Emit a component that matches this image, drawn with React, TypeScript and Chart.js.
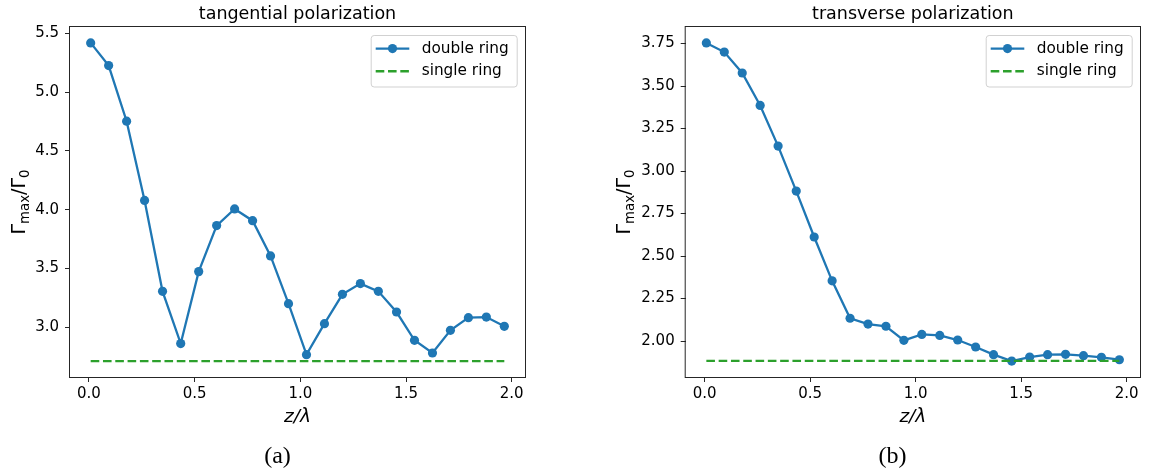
import React, { useEffect, useRef } from "react";
import { Chart, registerables } from "chart.js";

Chart.register(...registerables);

// Distance from the ring plane, in units of the wavelength
const zOverLambda = [
  0.008, 0.093, 0.178, 0.263, 0.348, 0.434, 0.519, 0.604, 0.689, 0.774, 0.859, 0.944,
  1.029, 1.114, 1.199, 1.284, 1.369, 1.455, 1.54, 1.625, 1.71, 1.795, 1.88, 1.965,
];

// Γmax/Γ0, tangential polarization
const tangentialDouble = [
  5.42, 5.227, 4.753, 4.078, 3.304, 2.859, 3.472, 3.864, 4.006, 3.906, 3.606, 3.199,
  2.765, 3.029, 3.279, 3.37, 3.304, 3.128, 2.887, 2.779, 2.972, 3.08, 3.085, 3.006,
];
const tangentialSingle = 2.71;

// Γmax/Γ0, transverse polarization
const transverseDouble = [
  3.754, 3.7, 3.577, 3.386, 3.147, 2.882, 2.612, 2.354, 2.134, 2.1, 2.087, 2.004,
  2.039, 2.033, 2.006, 1.965, 1.92, 1.882, 1.906, 1.92, 1.922, 1.914, 1.904, 1.89,
];
const transverseSingle = 1.883;

const xTicks = [0, 0.5, 1, 1.5, 2];
const tangentialYTicks = [3.0, 3.5, 4.0, 4.5, 5.0, 5.5];
const transverseYTicks = [2.0, 2.25, 2.5, 2.75, 3.0, 3.25, 3.5, 3.75];

const seriesLabels = ["double ring", "single ring"];
const titles = ["tangential polarization", "transverse polarization"];
const captions = ["(a)", "(b)"];

const BLUE = "#1f77b4";
const GREEN = "#2ca02c";
const INK = "#000000";
const SPINE = "#262626";
const SANS = '"DejaVu Sans", sans-serif';

const CANVAS_H = 475;

// matplotlib-like autoscale: data range plus 5% margins on both sides
function padded(values: number[]) {
  const lo = Math.min(...values);
  const hi = Math.max(...values);
  const m = (hi - lo) * 0.05;
  return { min: lo - m, max: hi + m };
}

type FrameOpts = {
  title: string;
  yLabelGap: number;
};

// Draws the axes frame, title, axis labels (with subscripts) and the legend
const framePlugin = {
  id: "frame",
  afterDraw(chart: any, _args: any, opts: FrameOpts) {
    const { ctx, chartArea: a } = chart;
    ctx.save();

    // spines
    ctx.strokeStyle = SPINE;
    ctx.lineWidth = 1;
    ctx.setLineDash([]);
    ctx.strokeRect(a.left - 0.5, a.top - 0.5, a.right - a.left + 1, a.bottom - a.top + 1);

    const cx = (a.left + a.right) / 2;

    // title
    ctx.fillStyle = INK;
    ctx.font = `17.5px ${SANS}`;
    ctx.textAlign = "center";
    ctx.textBaseline = "alphabetic";
    ctx.fillText(opts.title, cx, a.top - 8.5);

    // x label: z/λ
    ctx.font = `italic 18.5px ${SANS}`;
    ctx.textBaseline = "middle";
    ctx.fillText("z/λ", cx, a.bottom + 40);

    // y label: Γmax/Γ0
    const fs = 19;
    const sub = fs * 0.7;
    const runs = [
      { t: "Γ", s: false },
      { t: "max", s: true },
      { t: "/Γ", s: false },
      { t: "0", s: true },
    ];
    const widthOf = (r: { t: string; s: boolean }) => {
      ctx.font = `${r.s ? sub : fs}px ${SANS}`;
      return ctx.measureText(r.t).width;
    };
    const total = runs.reduce((acc, r) => acc + widthOf(r), 0);
    ctx.translate(a.left - opts.yLabelGap, (a.top + a.bottom) / 2);
    ctx.rotate(-Math.PI / 2);
    ctx.textAlign = "left";
    ctx.textBaseline = "alphabetic";
    let x = -total / 2;
    for (const r of runs) {
      const w = widthOf(r);
      ctx.fillText(r.t, x, r.s ? fs * 0.2 : 0);
      x += w;
    }
    ctx.setTransform(1, 0, 0, 1, 0, 0);

    // legend
    const boxW = 146;
    const boxH = 51.5;
    const bx = a.right - 8.3 - boxW;
    const by = a.top + 8;
    ctx.beginPath();
    if ((ctx as any).roundRect) {
      (ctx as any).roundRect(bx + 0.5, by + 0.5, boxW, boxH, 3);
    } else {
      ctx.rect(bx + 0.5, by + 0.5, boxW, boxH);
    }
    ctx.fillStyle = "rgba(255,255,255,0.8)";
    ctx.fill();
    ctx.strokeStyle = "rgba(204,204,204,0.9)";
    ctx.lineWidth = 1;
    ctx.stroke();

    const rows = [by + 13.6, by + 36.3];
    chart.data.datasets.forEach((ds: any, i: number) => {
      const y = rows[i];
      const x0 = bx + 5;
      const x1 = bx + 38.6;
      ctx.strokeStyle = ds.borderColor;
      ctx.lineWidth = ds.borderWidth;
      ctx.setLineDash(ds.borderDash || []);
      ctx.beginPath();
      ctx.moveTo(x0, y);
      ctx.lineTo(x1, y);
      ctx.stroke();
      ctx.setLineDash([]);
      if (ds.pointRadius > 0) {
        ctx.fillStyle = ds.borderColor;
        ctx.beginPath();
        ctx.arc((x0 + x1) / 2, y, ds.pointRadius, 0, Math.PI * 2);
        ctx.fill();
      }
      ctx.fillStyle = INK;
      ctx.font = `15.3px ${SANS}`;
      ctx.textAlign = "left";
      ctx.textBaseline = "middle";
      ctx.fillText(ds.label, bx + 51, y);
    });

    ctx.restore();
  },
};

type PanelProps = {
  width: number;
  padRight: number;
  yAxisWidth: number;
  yLabelGap: number;
  title: string;
  values: number[];
  single: number;
  yTicks: number[];
  decimals: number;
};

function Panel(p: PanelProps) {
  const ref = useRef<HTMLCanvasElement | null>(null);

  useEffect(() => {
    if (!ref.current) return;
    const xr = padded(zOverLambda);
    const yr = padded([...p.values, p.single]);
    const last = zOverLambda.length - 1;
    const tickFont = { family: SANS, size: 15 };

    const chart = new Chart(ref.current, {
      type: "line",
      data: {
        datasets: [
          {
            label: seriesLabels[0],
            data: zOverLambda.map((x, i) => ({ x, y: p.values[i] })),
            borderColor: BLUE,
            backgroundColor: BLUE,
            borderWidth: 2.3,
            pointRadius: 4.6,
            pointBorderWidth: 0,
            pointBackgroundColor: BLUE,
            pointHoverRadius: 4.6,
            tension: 0,
            fill: false,
            order: 1,
          },
          {
            label: seriesLabels[1],
            data: [
              { x: zOverLambda[0], y: p.single },
              { x: zOverLambda[last], y: p.single },
            ],
            borderColor: GREEN,
            backgroundColor: GREEN,
            borderWidth: 2.4,
            borderDash: [8.6, 3.7],
            pointRadius: 0,
            tension: 0,
            fill: false,
            order: 0,
          },
        ],
      },
      options: {
        animation: false,
        responsive: false,
        maintainAspectRatio: false,
        events: [],
        layout: { padding: { top: 27, right: p.padRight, left: 0, bottom: 0 } },
        plugins: {
          legend: { display: false },
          tooltip: { enabled: false },
          title: { display: false },
          frame: { title: p.title, yLabelGap: p.yLabelGap },
        } as any,
        scales: {
          x: {
            type: "linear",
            min: xr.min,
            max: xr.max,
            afterFit: (s: any) => {
              s.height = CANVAS_H - 377;
            },
            afterBuildTicks: (s: any) => {
              s.ticks = xTicks.map((v) => ({ value: v }));
            },
            grid: {
              drawOnChartArea: false,
              drawTicks: true,
              tickLength: 5,
              color: SPINE,
              tickWidth: 1,
            },
            border: { display: false },
            ticks: {
              font: tickFont,
              color: INK,
              padding: 3,
              maxRotation: 0,
              autoSkip: false,
              callback: (v: any) => Number(v).toFixed(1),
            },
          },
          y: {
            type: "linear",
            min: yr.min,
            max: yr.max,
            afterFit: (s: any) => {
              s.width = p.yAxisWidth;
            },
            afterBuildTicks: (s: any) => {
              s.ticks = p.yTicks.map((v) => ({ value: v }));
            },
            grid: {
              drawOnChartArea: false,
              drawTicks: true,
              tickLength: 5,
              color: SPINE,
              tickWidth: 1,
            },
            border: { display: false },
            ticks: {
              font: tickFont,
              color: INK,
              padding: 6,
              autoSkip: false,
              callback: (v: any) => Number(v).toFixed(p.decimals),
            },
          },
        },
      },
      plugins: [framePlugin],
    } as any);

    return () => chart.destroy();
  }, []);

  return (
    <canvas
      ref={ref}
      width={p.width}
      height={CANVAS_H}
      style={{ display: "block", width: p.width, height: CANVAS_H }}
    />
  );
}

const captionStyle: React.CSSProperties = {
  position: "absolute",
  top: 443,
  width: 200,
  textAlign: "center",
  fontFamily: '"Liberation Serif", serif',
  fontSize: 24,
  lineHeight: "24px",
  color: "#000",
};

export default function App() {
  return (
    <div
      style={{
        position: "absolute",
        left: 0,
        top: 0,
        width: 1153,
        height: CANVAS_H,
        background: "#fff",
        overflow: "hidden",
      }}
    >
      <div style={{ position: "absolute", left: 0, top: 0 }}>
        <Panel
          width={570}
          padRight={45}
          yAxisWidth={70}
          yLabelGap={45}
          title={titles[0]}
          values={tangentialDouble}
          single={tangentialSingle}
          yTicks={tangentialYTicks}
          decimals={1}
        />
      </div>
      <div style={{ position: "absolute", left: 570, top: 0 }}>
        <Panel
          width={583}
          padRight={13}
          yAxisWidth={115.7}
          yLabelGap={55.7}
          title={titles[1]}
          values={transverseDouble}
          single={transverseSingle}
          yTicks={transverseYTicks}
          decimals={2}
        />
      </div>
      <div style={{ ...captionStyle, left: 277.5 - 100 }}>{captions[0]}</div>
      <div style={{ ...captionStyle, left: 892.5 - 100 }}>{captions[1]}</div>
    </div>
  );
}
